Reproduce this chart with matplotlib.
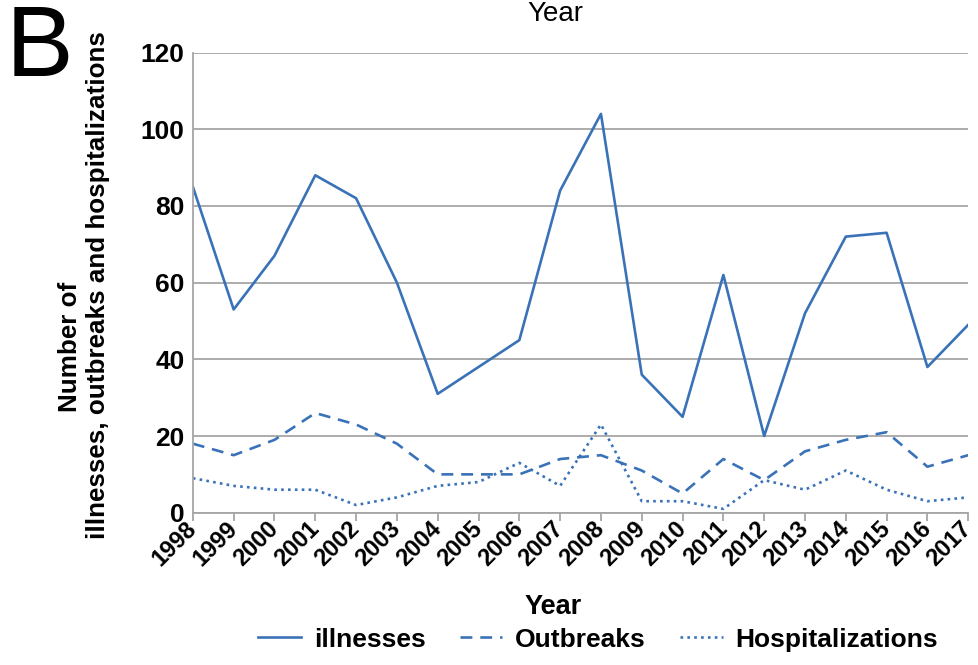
#!/usr/bin/env python3

import matplotlib
matplotlib.use('Agg')
import matplotlib.pyplot as plt
from matplotlib import transforms

plt.rcParams['font.family'] = ['Liberation Sans', 'DejaVu Sans']

years = list(range(1998, 2018))
illnesses = [85, 53, 67, 88, 82, 60, 31, 38, 45, 84, 104, 36, 25, 62, 20, 52, 72, 73, 38, 49]
outbreaks = [18, 15, 19, 26, 23, 18, 10, 10, 10, 14, 15, 11, 5, 14, 8.5, 16, 19, 21, 12, 15]
hospitalizations = [9, 7, 6, 6, 2, 4, 7, 8, 13, 7, 23, 3, 3, 1, 8.5, 6, 11, 6, 3, 4]

blue = '#3a72b8'
grey = '#a6a6a6'

fig = plt.figure(figsize=(9.79, 6.65), dpi=100)
ax = fig.add_axes([0.197, 0.229, 0.792, 0.692])

ax.plot(years, illnesses, color=blue, lw=1.9, label='illnesses')
ax.plot(years, outbreaks, color=blue, lw=1.9, dashes=(4.5, 3), label='Outbreaks')
ax.plot(years, hospitalizations, color=blue, lw=1.9, dashes=(1, 1.6), label='Hospitalizations')

ax.set_xlim(1998, 2017)
ax.set_ylim(0, 120)
ax.set_yticks(range(0, 121, 20))
ax.set_xticks(years)
ax.set_xticklabels([str(y) for y in years], rotation=45, ha='right',
                   rotation_mode='anchor', va='center', fontsize=17, fontweight='bold')
shift = transforms.ScaledTranslation(6 / 100, -3 / 100, fig.dpi_scale_trans)
for lab in ax.get_xticklabels():
    lab.set_transform(lab.get_transform() + shift)
for lab in ax.get_yticklabels():
    lab.set_fontsize(19)
    lab.set_fontweight('bold')

ax.grid(axis='y', color=grey, lw=1.3)
ax.set_axisbelow(True)
for s in ['top', 'right']:
    ax.spines[s].set_visible(False)
ax.spines['left'].set_color(grey)
ax.spines['bottom'].set_color(grey)
ax.spines['left'].set_linewidth(1.3)
ax.spines['bottom'].set_linewidth(1.3)
ax.tick_params(axis='y', length=0, pad=6)
ax.tick_params(axis='x', direction='out', length=6, color=grey, width=1.3, pad=3)

# axis titles
fig.text(70 / 979, 1 - 347 / 665, 'Number of', rotation=90, ha='center', va='center',
         fontsize=18.7, fontweight='bold')
fig.text(98 / 979, 1 - 285 / 665, 'illnesses, outbreaks and hospitalizations',
         rotation=90, ha='center', va='center', fontsize=18.7, fontweight='bold')
fig.text(553 / 979, 1 - 607 / 665, 'Year', ha='center', va='center',
         fontsize=19.5, fontweight='bold')
fig.text(555 / 979, 1 - 14 / 665, 'Year', ha='center', va='center', fontsize=20)

fig.text(0.006, 0.995, 'B', fontsize=73, va='top', ha='left')

ax.legend(loc='center', bbox_to_anchor=(0.523, -0.276), ncol=3,
          frameon=False, prop={'size': 19, 'weight': 'bold'}, handlelength=1.6,
          columnspacing=1.3, handletextpad=0.5)

fig.savefig('out.png', dpi=100)
